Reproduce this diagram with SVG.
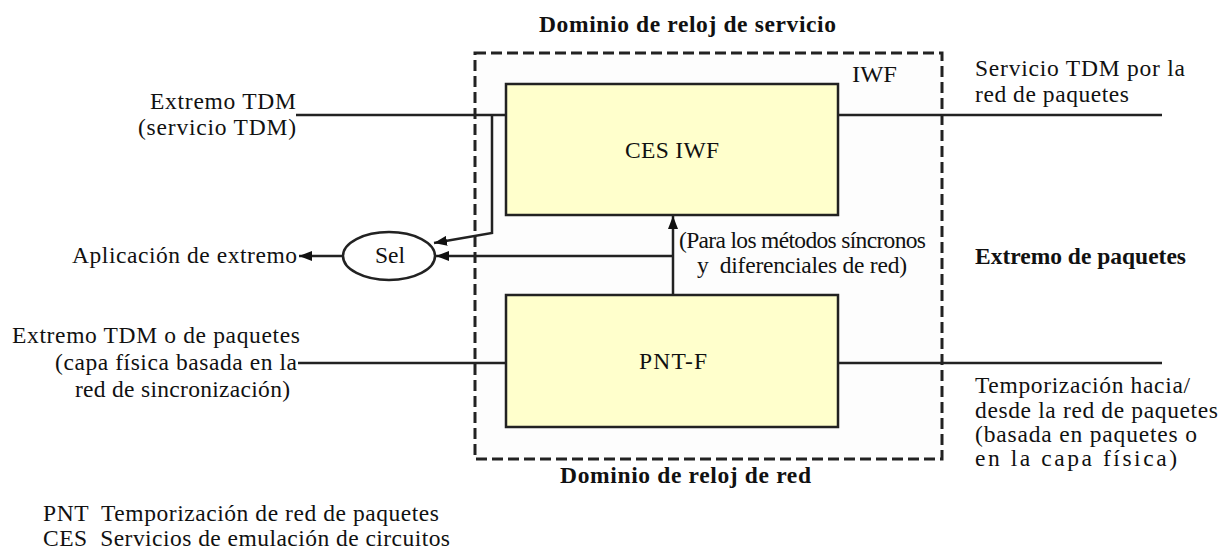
<svg xmlns="http://www.w3.org/2000/svg" width="1219" height="549" viewBox="0 0 1219 549">
<defs>
<style>
text{font-family:"Liberation Serif","Times New Roman",serif;font-size:23.5px;fill:#111}
.b{font-weight:bold}
.box{fill:#FFFFCC;stroke:#222;stroke-width:2.5}
.ln{stroke:#222;stroke-width:2.5;fill:none}
.dash{fill:#FDFDFD;stroke:#222;stroke-width:3;stroke-dasharray:11,5}
</style>
<marker id="ah" viewBox="0 0 13 10" refX="13" refY="5" markerWidth="13" markerHeight="10" markerUnits="userSpaceOnUse" orient="auto">
<path d="M0,0 L13,5 L0,10 Z" fill="#111"/>
</marker>
</defs>
<rect width="1219" height="549" fill="#fff"/>
<g id="iwf-domain">
<rect class="dash" x="475" y="53" width="467" height="406"/>
<text x="852" y="82" textLength="45" lengthAdjust="spacingAndGlyphs">IWF</text>
</g>
<text class="b" x="539" y="32" textLength="297" lengthAdjust="spacing">Dominio de reloj de servicio</text>
<text class="b" x="560" y="483" textLength="251" lengthAdjust="spacing">Dominio de reloj de red</text>
<g id="connectors">
<line class="ln" x1="296" y1="115" x2="506" y2="115"/>
<line class="ln" x1="838" y1="115" x2="1162" y2="115"/>
<line class="ln" x1="298" y1="363" x2="506" y2="363"/>
<line class="ln" x1="838" y1="363" x2="1162" y2="363"/>
<polyline class="ln" points="492,115 492,233 434,243" marker-end="url(#ah)"/>
<line class="ln" x1="673" y1="256" x2="436" y2="256" marker-end="url(#ah)"/>
<line class="ln" x1="673" y1="295" x2="673" y2="216" marker-end="url(#ah)"/>
<line class="ln" x1="343" y1="256" x2="299" y2="256" marker-end="url(#ah)"/>
</g>
<g id="ces-iwf">
<rect class="box" x="506" y="84" width="332" height="131"/>
<text x="672" y="158" text-anchor="middle" textLength="94" lengthAdjust="spacing">CES IWF</text>
</g>
<g id="pnt-f">
<rect class="box" x="506" y="295" width="332" height="132"/>
<text x="673" y="369" text-anchor="middle" textLength="68" lengthAdjust="spacing">PNT-F</text>
</g>
<g id="sel">
<ellipse cx="389" cy="256" rx="46" ry="24" fill="#fff" stroke="#222" stroke-width="2.5"/>
<text x="390" y="263" text-anchor="middle" textLength="30" lengthAdjust="spacing">Sel</text>
</g>
<g id="left-labels">
<text x="150" y="109" textLength="146" lengthAdjust="spacing">Extremo TDM</text>
<text x="138" y="135" textLength="158" lengthAdjust="spacing">(servicio TDM)</text>
<text x="72" y="263" textLength="225" lengthAdjust="spacing">Aplicación de extremo</text>
<text x="12" y="343" textLength="288" lengthAdjust="spacing">Extremo TDM o de paquetes</text>
<text x="55" y="370" textLength="242" lengthAdjust="spacing">(capa física basada en la</text>
<text x="75" y="397" textLength="215" lengthAdjust="spacing">red de sincronización)</text>
</g>
<g id="mid-labels">
<text x="679" y="248" textLength="247" lengthAdjust="spacing">(Para los métodos síncronos</text>
<text x="697" y="273" textLength="210" lengthAdjust="spacing" xml:space="preserve">y  diferenciales de red)</text>
</g>
<g id="right-labels">
<text x="975" y="76" textLength="210" lengthAdjust="spacing">Servicio TDM por la</text>
<text x="975" y="102" textLength="154" lengthAdjust="spacing">red de paquetes</text>
<text class="b" x="975" y="264" textLength="211" lengthAdjust="spacing">Extremo de paquetes</text>
<text x="975" y="393" textLength="215" lengthAdjust="spacing">Temporización hacia/</text>
<text x="975" y="418" textLength="243" lengthAdjust="spacing">desde la red de paquetes</text>
<text x="975" y="442" textLength="222" lengthAdjust="spacing">(basada en paquetes o</text>
<text x="975" y="466" textLength="202" lengthAdjust="spacing">en la capa física)</text>
</g>
<g id="legend">
<text x="43" y="521" textLength="396" lengthAdjust="spacing" xml:space="preserve">PNT  Temporización de red de paquetes</text>
<text x="43" y="546" textLength="407" lengthAdjust="spacing" xml:space="preserve">CES  Servicios de emulación de circuitos</text>
</g>
</svg>
